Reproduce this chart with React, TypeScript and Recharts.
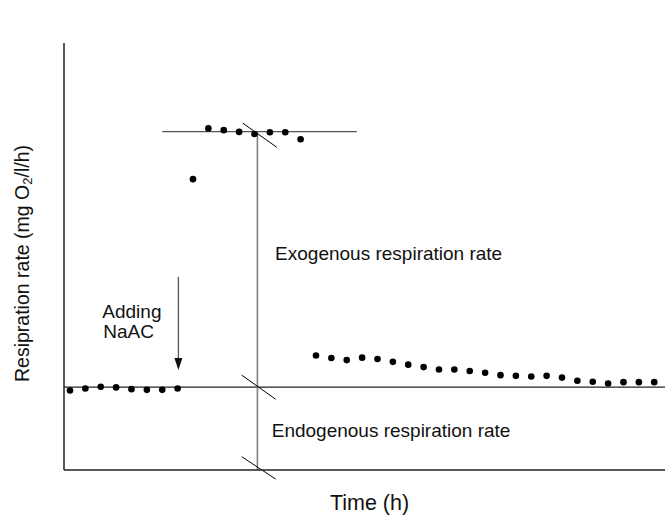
import {
  ReferenceDot,
  ReferenceLine,
  Scatter,
  ScatterChart,
  XAxis,
  YAxis,
} from "recharts";

// measurements, time in sample steps, rate in axis units
const baselineTime = [0, 1, 2, 3, 4, 5, 6, 7];
const baselineRate = [2.27, 2.33, 2.38, 2.36, 2.31, 2.29, 2.29, 2.33];

const peakTime = [8, 9, 10, 11, 12, 13, 14, 15];
const peakRate = [8.31, 9.76, 9.71, 9.66, 9.6, 9.65, 9.65, 9.45];

const decayTime = [
  16, 17, 18, 19, 20, 21, 22, 23, 24, 25, 26, 27, 28, 29, 30, 31, 32, 33, 34,
  35, 36, 37, 38,
];
const decayRate = [
  3.27, 3.2, 3.14, 3.21, 3.17, 3.09, 3.01, 2.94, 2.87, 2.87, 2.83, 2.78, 2.71,
  2.69, 2.67, 2.69, 2.64, 2.55, 2.52, 2.47, 2.51, 2.51, 2.51,
];

const yTicks = [0, 1, 2, 3, 4, 5, 6, 7, 8, 9, 10, 11, 12];

// reference levels
const endogenousLevel = 2.37;
const exogenousLevel = 9.67;
const plateauStart = 6.0;
const plateauEnd = 18.65;
const markerTime = 12.19;
const additionTime = 7.05;
const arrowTop = 5.52;
const arrowTip = 2.86;

const slashStart = [
  { x: 11.24, y: 9.91 },
  { x: 11.17, y: 2.71 },
  { x: 11.17, y: 0.38 },
];
const slashEnd = [
  { x: 13.45, y: 9.22 },
  { x: 13.38, y: 2.02 },
  { x: 13.38, y: -0.26 },
];

const notes = [
  { x: 13.34, y: 6.0, text: "Exogenous respiration rate" },
  { x: 13.12, y: 0.95, text: "Endogenous respiration rate" },
  { x: 2.1, y: 4.34, text: "Adding" },
  { x: 2.16, y: 3.77, text: "NaAC" },
];

const toPoints = (t: number[], r: number[]) =>
  t.map((v, i) => ({ t: v, r: r[i] }));

const FONT = "'Liberation Sans', Arial, sans-serif";

const Dot = (props: any) => (
  <circle cx={props.cx} cy={props.cy} r={3.3} fill="#000" />
);

const App = () => {
  const baseline = toPoints(baselineTime, baselineRate);
  const peak = toPoints(peakTime, peakRate);
  const decay = toPoints(decayTime, decayRate);

  return (
    <div style={{ position: "absolute", left: 0, top: 0, background: "#fff" }}>
      <ScatterChart
        width={665}
        height={516}
        margin={{ top: 43, right: 0, bottom: 0, left: 0 }}
      >
        <XAxis
          type="number"
          dataKey="t"
          domain={[-0.39, 38.7]}
          allowDataOverflow
          height={46}
          tick={false}
          tickLine={false}
          axisLine={{ stroke: "#222", strokeWidth: 1.5 }}
          label={{
            content: (p: any) => (
              <text
                x={p.viewBox.x + p.viewBox.width / 2 + 5}
                y={p.viewBox.y + 40}
                textAnchor="middle"
                fontFamily={FONT}
                fontSize={21.5}
                fill="#111"
              >
                Time (h)
              </text>
            ),
          }}
        />
        <YAxis
          type="number"
          dataKey="r"
          domain={[0, 12.2]}
          allowDataOverflow
          ticks={yTicks}
          width={64}
          tick={false}
          tickSize={2}
          tickLine={{ stroke: "#444" }}
          axisLine={{ stroke: "#222", strokeWidth: 1.5 }}
          label={{
            content: (p: any) => {
              const cx = 22;
              const cy = p.viewBox.y + p.viewBox.height - 88;
              return (
                <text
                  x={cx}
                  y={cy}
                  transform={`rotate(-90 ${cx} ${cy})`}
                  textAnchor="start"
                  dominantBaseline="central"
                  fontFamily={FONT}
                  fontSize={19.5}
                  fill="#111"
                >
                  Resipration rate (mg O
                  <tspan fontSize={13} dy={5}>
                    2
                  </tspan>
                  <tspan dy={-5}>/l/h)</tspan>
                </text>
              );
            },
          }}
        />

        <ReferenceLine
          y={endogenousLevel}
          stroke="#222"
          strokeWidth={1.3}
          ifOverflow="visible"
        />
        <ReferenceLine
          segment={[
            { x: plateauStart, y: exogenousLevel },
            { x: plateauEnd, y: exogenousLevel },
          ]}
          stroke="#555"
          strokeWidth={1.3}
        />
        <ReferenceLine
          segment={[
            { x: markerTime, y: exogenousLevel },
            { x: markerTime, y: 0 },
          ]}
          stroke="#808080"
          strokeWidth={1.6}
        />
        {slashStart.map((s, i) => (
          <ReferenceLine
            key={i}
            segment={[s, slashEnd[i]]}
            stroke="#000"
            strokeWidth={1}
            ifOverflow="visible"
          />
        ))}

        <ReferenceLine
          segment={[
            { x: additionTime, y: arrowTop },
            { x: additionTime, y: arrowTip + 0.3 },
          ]}
          stroke="#555"
          strokeWidth={1.3}
        />
        <ReferenceDot
          x={additionTime}
          y={arrowTip}
          ifOverflow="visible"
          shape={(p: any) => (
            <polygon
              points={`${p.cx - 4},${p.cy - 12} ${p.cx + 4},${p.cy - 12} ${p.cx},${p.cy}`}
              fill="#111"
            />
          )}
        />

        {notes.map((n) => (
          <ReferenceDot
            key={n.text}
            x={n.x}
            y={n.y}
            ifOverflow="visible"
            shape={(p: any) => (
              <text
                x={p.cx}
                y={p.cy}
                fontFamily={FONT}
                fontSize={19}
                fill="#111"
              >
                {n.text}
              </text>
            )}
          />
        ))}

        <Scatter data={baseline} shape={Dot} isAnimationActive={false} />
        <Scatter data={peak} shape={Dot} isAnimationActive={false} />
        <Scatter data={decay} shape={Dot} isAnimationActive={false} />
      </ScatterChart>
    </div>
  );
};

export default App;
